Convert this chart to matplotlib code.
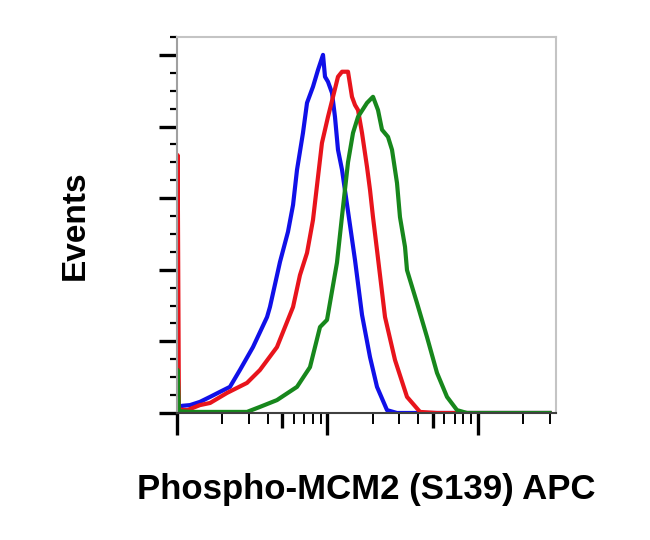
import numpy as np
import matplotlib
matplotlib.use("Agg")
import matplotlib.pyplot as plt
from matplotlib.ticker import FixedLocator, MultipleLocator, NullFormatter

# histogram outlines (intensity, events)
blue_x = [101, 108, 122, 142, 166, 193, 225, 262, 320, 397, 415, 484, 547, 591, 628,
          688, 732, 802, 866, 935, 964, 1009, 1073, 1123, 1176, 1251, 1413, 1526,
          1699, 1920, 2137, 2491, 2903, 30000]
blue_y = [0, 2.0, 2.2, 3.1, 4.5, 5.9, 7.3, 12.0, 18.4, 26.8, 29.6, 42.2, 50.6, 58.1, 67.9,
          78.2, 86.6, 91.1, 95.8, 100, 93.9, 92.5, 89.4, 82.7, 73.5, 67.9, 52.5, 42.7,
          27.4, 15.6, 7.3, 0.8, 0, 0]

red_x = [101, 101, 103, 117, 142, 166, 215, 292, 356, 462, 591, 657, 732, 802, 920,
         1009, 1090, 1176, 1251, 1371, 1457, 1526, 1598, 1699, 1834, 1920, 2010, 2137,
         2416, 2815, 3383, 4128, 5355, 30000]
red_y = [0, 72, 1.0, 0.8, 2.2, 2.8, 5.6, 8.4, 12.0, 18.4, 29.6, 38.5, 44.7, 53.9, 75.4,
         82.7, 88.3, 93.9, 95.3, 95.3, 88.3, 86.0, 84.6, 78.2, 68.7, 62.3, 54.7, 45.5,
         26.8, 14.8, 4.5, 0.3, 0, 0]

green_x = [101, 101, 103, 128, 292, 356, 462, 628, 766, 893, 994, 1158, 1251, 1371, 1480,
           1598, 1834, 2010, 2170, 2307, 2529, 2689, 2903, 3038, 3281, 3383, 3943, 4595,
           5355, 6242, 7273, 8476, 30000]
green_y = [0, 12.0, 0.5, 0.3, 0.3, 1.7, 3.6, 7.3, 12.8, 24.0, 26.0, 42.0, 55.0, 70.0, 78.2,
           82.7, 86.6, 88.3, 84.6, 79.1, 77.1, 73.5, 64.2, 54.7, 46.4, 39.9, 30.7, 21.2,
           11.2, 4.5, 0.8, 0, 0]

x_major = [1e2, 1e3, 1e4]
x_minor = [k * d for d in (1e2, 1e3) for k in range(2, 10)] + [2e4, 3e4]

fig = plt.figure(figsize=(6.5, 5.4), dpi=100)
ax = fig.add_axes([0.2723, 0.2352, 0.5831, 0.6963])

lw = 3.0
ax.plot(blue_x, blue_y, color="#1010e8", lw=lw)
ax.plot(red_x, red_y, color="#e8141c", lw=lw)
ax.plot(green_x, green_y, color="#17871c", lw=lw)

ax.set_xscale("log")
ax.set_xlim(100, 10**4.52)
ax.set_ylim(0, 105)

ax.xaxis.set_major_locator(FixedLocator(x_major))
ax.xaxis.set_minor_locator(FixedLocator(x_minor))
ax.xaxis.set_major_formatter(NullFormatter())
ax.xaxis.set_minor_formatter(NullFormatter())
ax.yaxis.set_major_locator(MultipleLocator(20))
ax.yaxis.set_minor_locator(MultipleLocator(5))
ax.yaxis.set_major_formatter(NullFormatter())

ax.tick_params(axis="x", which="major", direction="out", length=16, width=2.4, color="black")
ax.tick_params(axis="x", which="minor", direction="out", length=8, width=1.4, color="black")
ax.tick_params(axis="y", which="major", direction="out", length=13, width=2.4, color="black")
ax.tick_params(axis="y", which="minor", direction="out", length=5, width=1.6, color="black")

# the 5s get a bit longer, thicker tick
locs = ax.xaxis.get_minorticklocs()
for t, loc in zip(ax.xaxis.get_minor_ticks(len(locs)), locs):
    if round(loc / 10**np.floor(np.log10(loc))) == 5:
        t.tick1line.set_markersize(11)
        t.tick1line.set_markeredgewidth(2.4)

ax.spines["top"].set_color("#c4c4c4")
ax.spines["right"].set_color("#c4c4c4")
ax.spines["left"].set_color("#a0a0a0")
ax.spines["bottom"].set_color("#404040")
for s in ax.spines.values():
    s.set_linewidth(1.5)

fig.text(75 / 650, 1 - 225 / 540, "Events", rotation=90, ha="center", va="center",
         fontsize=24, fontweight="bold", family=["Liberation Sans", "DejaVu Sans"])
fig.text(366 / 650, 1 - 490 / 540, "Phospho-MCM2 (S139) APC", ha="center", va="center",
         fontsize=25, fontweight="bold", family=["Liberation Sans", "DejaVu Sans"])

fig.savefig("out.png", dpi=100)
